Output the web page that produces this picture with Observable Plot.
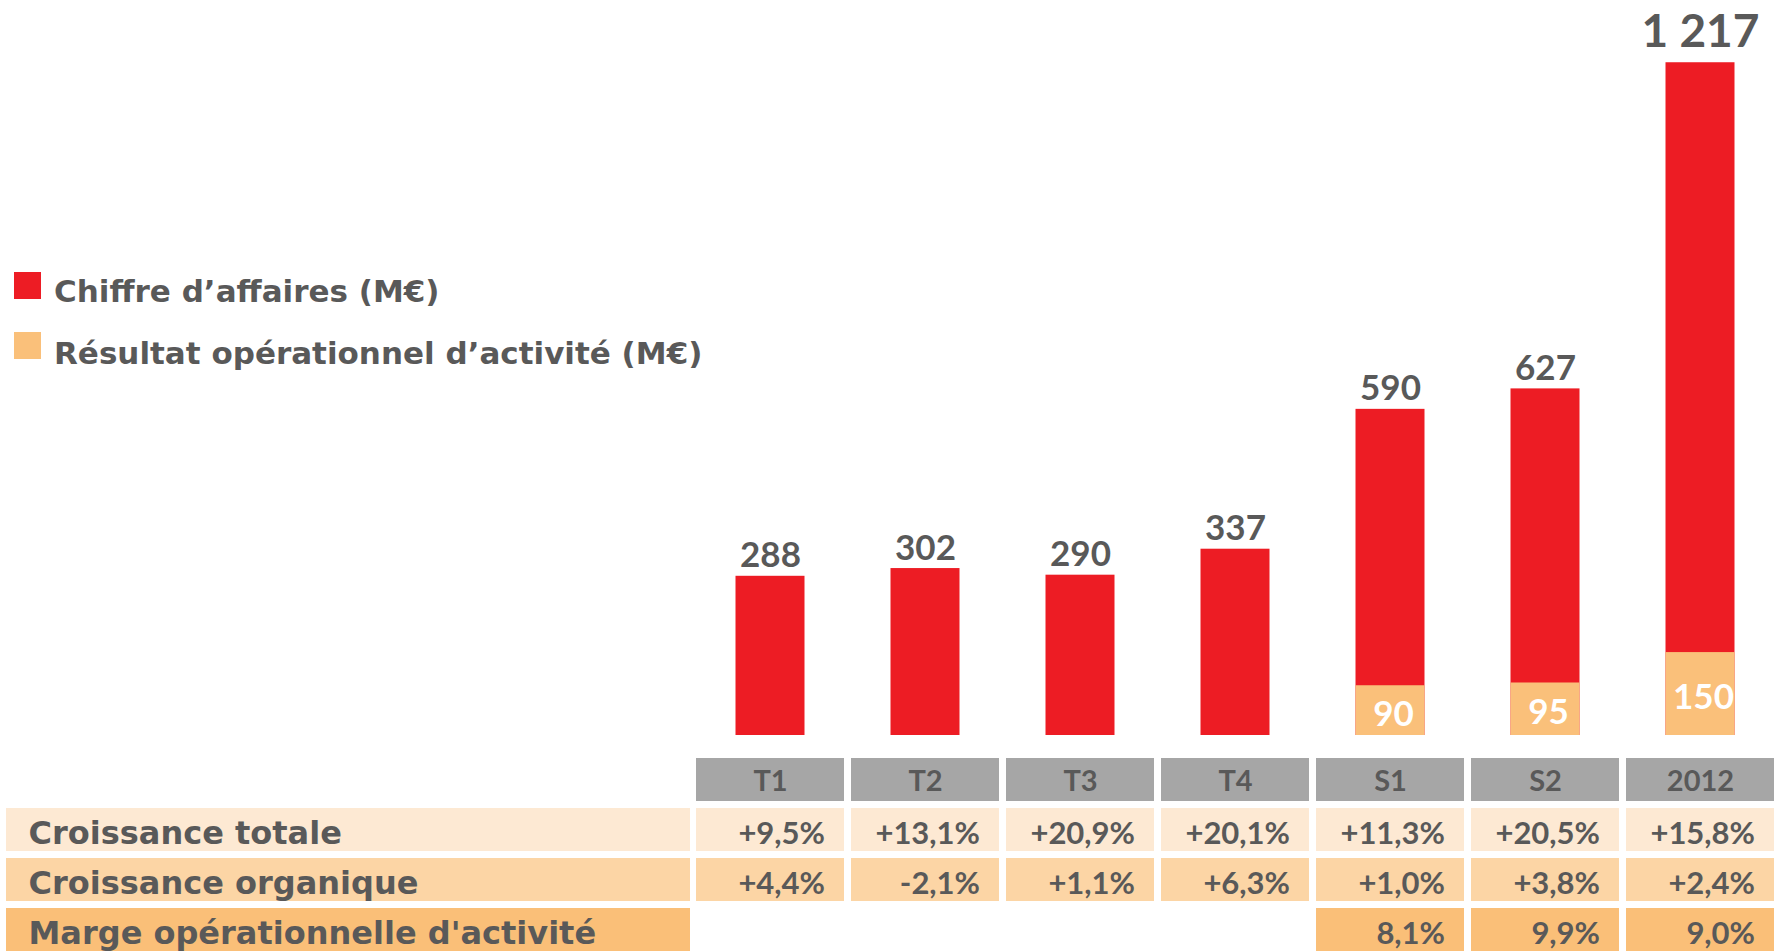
<!DOCTYPE html>
<html>
<head>
<meta charset="utf-8">
<script src="https://cdn.jsdelivr.net/npm/d3@7"></script>
<script src="https://cdn.jsdelivr.net/npm/@observablehq/plot@0.6"></script>
<style>
  html, body { margin: 0; padding: 0; background: #fff; }
  #wrap { position: relative; width: 1779px; height: 952px; overflow: hidden; font-family: Lato, "Open Sans", sans-serif; }
  #chart { position: absolute; left: 0; top: 0; }
  #labels { position: absolute; left: 0; top: 757px; }
  #table { position: absolute; left: 694px; top: 757px; }
  .legend { position: absolute; left: 14px; display: flex; align-items: center; font-family: "DejaVu Sans", sans-serif; font-weight: 700; font-size: 31px; color: #595959; }
  .legend .sw { width: 27px; height: 27px; margin-right: 13px; }
  .legend .tx { position: relative; top: 6px; }
</style>
</head>
<body>
<div id="wrap">
  <div id="chart"></div>
  <div id="labels"></div>
  <div id="table"></div>
  <div class="legend" style="top:267px"><span class="sw" style="background:#ed1c24"></span><span class="tx">Chiffre d’affaires (M€)</span></div>
  <div class="legend" style="top:327px"><span class="sw" style="background:#fac07a"></span><span class="tx" style="top:8px">Résultat opérationnel d’activité (M€)</span></div>
</div>
<script>
// ---- data ----
const categories = ["T1", "T2", "T3", "T4", "S1", "S2", "2012"];
const chiffreAffaires = [288, 302, 290, 337, 590, 627, 1217];
const resultatOp = [null, null, null, null, 90, 95, 150];
const croissanceTotale = ["+9,5%", "+13,1%", "+20,9%", "+20,1%", "+11,3%", "+20,5%", "+15,8%"];
const croissanceOrganique = ["+4,4%", "-2,1%", "+1,1%", "+6,3%", "+1,0%", "+3,8%", "+2,4%"];
const margeOp = [null, null, null, null, "8,1%", "9,9%", "9,0%"];
const rowKeys = ["header", "totale", "organique", "marge"];
const rowLabels = ["", "Croissance totale", "Croissance organique", "Marge opérationnelle d'activité"];
const rowColors = ["#a6a6a6", "#fde9d3", "#fcd5a5", "#fabf78"];

const RED = "#ed1c24", ORANGE = "#fac07a", TEXT = "#595959";
const fr = d3.formatLocale({decimal: ",", thousands: "\u00a0", grouping: [3], currency: ["", " €"]});
const fmt = fr.format(",d");

const caData = categories.map((c, i) => ({cat: c, v: chiffreAffaires[i]}));
const roaData = categories.map((c, i) => ({cat: c, v: resultatOp[i]})).filter(d => d.v != null);

const xOpts = {type: "band", domain: categories, paddingInner: 0.0428, paddingOuter: 0, axis: null};
const INSET = 39.5;

const chart = Plot.plot({
  width: 1779, height: 757,
  marginLeft: 694, marginRight: 2, marginTop: 44, marginBottom: 22,
  style: {fontFamily: "Lato, 'Open Sans', sans-serif", background: "transparent"},
  x: xOpts,
  y: {domain: [0, 1250], axis: null},
  marks: [
    Plot.barY(caData, {x: "cat", y: "v", fill: RED, insetLeft: INSET, insetRight: INSET}),
    Plot.barY(roaData, {x: "cat", y: "v", fill: ORANGE, insetLeft: INSET, insetRight: INSET}),
    Plot.text(caData.filter(d => d.v < 1000), {x: "cat", y: "v", text: d => fmt(d.v), lineAnchor: "bottom", dy: -9, fill: TEXT, fontWeight: "bold", fontSize: 35}),
    Plot.text(caData.filter(d => d.v >= 1000), {x: "cat", y: "v", text: d => fmt(d.v), lineAnchor: "bottom", dy: -16, fill: TEXT, fontWeight: "bold", fontSize: 46}),
    Plot.text(roaData, {x: "cat", y: d => d.v / 2, text: d => fmt(d.v), lineAnchor: "middle", dy: 4, dx: 3, fill: "white", fontWeight: "bold", fontSize: 35})
  ]
});
document.getElementById("chart").append(chart);

// ---- table ----
const yOpts = {type: "band", domain: rowKeys, paddingInner: 0.137, paddingOuter: 0, axis: null};
const colorOpts = {type: "ordinal", domain: rowKeys, range: rowColors};

const cells = [];
categories.forEach((c, i) => {
  cells.push({cat: c, row: "header", text: c});
  cells.push({cat: c, row: "totale", text: croissanceTotale[i]});
  cells.push({cat: c, row: "organique", text: croissanceOrganique[i]});
  if (margeOp[i] != null) cells.push({cat: c, row: "marge", text: margeOp[i]});
});

const table = Plot.plot({
  width: 1085, height: 195,
  marginLeft: 0, marginRight: 2, marginTop: 0, marginBottom: 0,
  style: {fontFamily: "Lato, 'Open Sans', sans-serif", background: "transparent"},
  x: xOpts, y: yOpts, color: colorOpts,
  marks: [
    Plot.cell(cells, {x: "cat", y: "row", fill: "row"}),
    Plot.text(cells.filter(d => d.row === "header"), {x: "cat", y: "row", text: "text", fill: TEXT, fontWeight: "bold", fontSize: 29, lineAnchor: "middle", dy: 2}),
    Plot.text(cells.filter(d => d.row !== "header"), {x: "cat", y: "row", text: "text", fill: TEXT, fontWeight: "bold", fontSize: 31, textAnchor: "end", dx: 54.5, lineAnchor: "middle", dy: 4})
  ]
});
document.getElementById("table").append(table);

const labelRows = rowKeys.map((k, i) => ({row: k, label: rowLabels[i]})).filter(d => d.row !== "header");
const labels = Plot.plot({
  width: 694, height: 195,
  marginLeft: 6, marginRight: 4, marginTop: 0, marginBottom: 0,
  style: {fontFamily: "'DejaVu Sans', sans-serif", background: "transparent"},
  y: yOpts, color: colorOpts,
  marks: [
    Plot.cell(labelRows, {y: "row", fill: "row"}),
    Plot.text(labelRows, {y: "row", text: "label", frameAnchor: "left", dx: 22, fill: TEXT, fontWeight: "bold", fontSize: 32, lineAnchor: "middle", dy: 4})
  ]
});
document.getElementById("labels").append(labels);
</script>
</body>
</html>
